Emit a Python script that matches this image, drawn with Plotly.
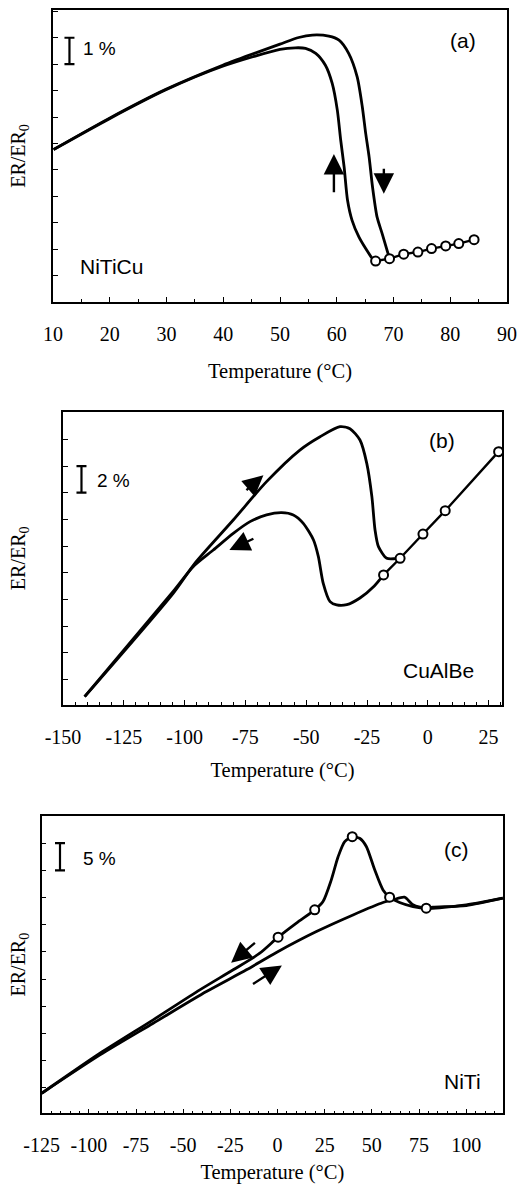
import plotly.graph_objects as go

# ---------------- data (a) NiTiCu ----------------
a_heat_T = [10.1, 19.8, 29.8, 39.9, 50.0, 53.3, 55.7, 58.6, 60.4, 62.1, 63.6, 64.5, 65.1, 65.7, 66.3, 67.1, 68.0, 69.3]
a_heat_R = [5.77, 6.94, 8.04, 8.96, 9.76, 10.01, 10.10, 10.06, 9.91, 9.41, 8.52, 7.39, 6.38, 5.49, 4.36, 3.22, 2.59, 1.64]
a_cool_T = [10.1, 19.8, 29.8, 39.9, 50.0, 52.7, 54.5, 56.3, 58.0, 59.2, 60.1, 60.7, 61.3, 61.9, 62.7, 63.9, 65.1, 66.3, 66.85]
a_cool_R = [5.77, 6.92, 8.02, 8.92, 9.56, 9.62, 9.60, 9.41, 8.96, 8.27, 7.26, 6.12, 5.11, 3.85, 3.09, 2.46, 2.02, 1.64, 1.55]
a_circ_T = [66.85, 69.3, 71.8, 74.3, 76.7, 79.2, 81.5, 84.2]
a_circ_R = [1.55, 1.64, 1.81, 1.89, 2.02, 2.12, 2.21, 2.36]
a_xticks = [10, 20, 30, 40, 50, 60, 70, 80, 90]

# ---------------- data (b) CuAlBe ----------------
b_heat_T = [-141.1, -104.7, -95.8, -80.0, -66.3, -52.6, -44.3, -36.1, -32.0, -27.9, -25.1, -23.0, -21.7, -20.3, -16.9, -13.4, -11.4]
b_heat_R = [0.7, 8.45, 10.7, 13.95, 16.83, 19.2, 20.2, 20.95, 20.8, 19.95, 18.2, 15.7, 13.2, 11.95, 11.08, 11.05, 11.08]
b_cool_T = [-18.2, -22.0, -27.9, -33.3, -37.5, -40.2, -43.0, -45.0, -47.0, -51.2, -55.3, -60.1, -66.3, -73.1, -80.0, -88.2, -96.5, -104.7, -141.1]
b_cool_R = [9.83, 9.0, 8.1, 7.6, 7.58, 7.83, 9.2, 11.2, 12.45, 13.7, 14.33, 14.5, 14.33, 13.83, 12.95, 11.7, 10.45, 8.6, 0.7]
b_circ_T = [-18.2, -11.4, -2.0, 7.15, 29.1]
b_circ_R = [9.83, 11.08, 12.9, 14.65, 19.08]
b_xticks = [-150, -125, -100, -75, -50, -25, 0, 25]

# ---------------- data (c) NiTi ----------------
c_heat_T = [-125, -94.1, -65.9, -37.7, -16.5, -0.6, 20.6, 40.0, 55.9, 61.2, 67.3, 71.8, 78.8, 100.0, 119.4]
c_heat_R = [3.99, 11.04, 16.87, 22.7, 26.7, 29.9, 33.74, 36.8, 39.08, 39.57, 40.06, 38.65, 38.04, 38.65, 39.88]
c_cool_T = [119.4, 100.0, 82.3, 78.8, 71.8, 64.7, 59.4, 55.9, 51.5, 47.05, 43.5, 39.6, 35.6, 32.1, 28.5, 24.1, 19.7, 10.0, 0.3, -9.4, -23.5, -41.2, -65.9, -94.1, -125]
c_cool_R = [39.88, 38.53, 38.22, 38.04, 38.34, 39.08, 40.06, 41.4, 45.1, 49.4, 50.9, 51.2, 50.3, 47.5, 43.25, 39.26, 37.73, 35.3, 32.7, 29.75, 26.7, 23.0, 17.5, 11.35, 3.99]
c_circ_T = [0.3, 19.7, 39.6, 59.4, 78.8]
c_circ_R = [32.7, 37.73, 51.2, 40.06, 38.04]
c_xticks = [-125, -100, -75, -50, -25, 0, 25, 50, 75, 100]

# scale bars: (x, y_low, y_high, label)
bar_a = (12.9, 9.0, 10.0, "1 %")
bar_b = (-142.4, 16.0, 18.0, "2 %")
bar_c = (-115.3, 45.0, 50.0, "5 %")

# arrows: (tail_x, tail_y, head_x, head_y)
arrows_a = [(59.5, 4.1, 59.5, 5.6), (68.3, 5.1, 68.3, 4.1)]
arrows_b = [(-75.2, 16.1, -67.6, 17.3), (-71.1, 12.6, -81.6, 11.7)]
arrows_c = [(-11.2, 31.9, -24.6, 28.0), (-13.8, 23.9, 2.3, 27.5)]

LINE = dict(color="black", width=2.8)
MARK = dict(symbol="circle", size=9, color="white", line=dict(color="black", width=2))

fig = go.Figure()

def add_panel(n, heatT, heatR, coolT, coolR, circT, circR, bar, circ_mode):
    xa = "x" if n == 1 else f"x{n}"
    ya = "y" if n == 1 else f"y{n}"
    fig.add_trace(go.Scatter(x=heatT, y=heatR, mode="lines", line=dict(LINE, shape="spline", smoothing=0.7),
                             xaxis=xa, yaxis=ya, showlegend=False, hoverinfo="skip"))
    fig.add_trace(go.Scatter(x=coolT, y=coolR, mode="lines", line=dict(LINE, shape="spline", smoothing=0.7),
                             xaxis=xa, yaxis=ya, showlegend=False, hoverinfo="skip"))
    fig.add_trace(go.Scatter(x=circT, y=circR, mode=circ_mode, line=dict(color="black", width=2.4),
                             marker=MARK, xaxis=xa, yaxis=ya, showlegend=False, hoverinfo="skip"))
    bx, blo, bhi, _ = bar
    fig.add_trace(go.Scatter(x=[bx], y=[(blo + bhi) / 2], mode="markers", marker=dict(size=1, color="rgba(0,0,0,0)"),
                             error_y=dict(type="data", array=[(bhi - blo) / 2], color="black", thickness=2.2, width=5),
                             xaxis=xa, yaxis=ya, showlegend=False, hoverinfo="skip"))

add_panel(1, a_heat_T, a_heat_R, a_cool_T, a_cool_R, a_circ_T, a_circ_R, bar_a, "lines+markers")
add_panel(2, b_heat_T, b_heat_R, b_cool_T, b_cool_R, b_circ_T, b_circ_R, bar_b, "lines+markers")
add_panel(3, c_heat_T, c_heat_R, c_cool_T, c_cool_R, c_circ_T, c_circ_R, bar_c, "markers")

SERIF = "Liberation Serif"
SANS = "Liberation Sans"
W, H = 518, 1184

def dx(px):
    return px / W

def dy(py):
    return 1 - py / H

def xax(domain, rng, ticks, anchor, standoff):
    return dict(domain=domain, range=rng, tickvals=ticks, ticktext=[str(t) for t in ticks],
                anchor=anchor, showline=True, linecolor="black", linewidth=1.5, mirror=True,
                ticks="inside", ticklen=5, tickcolor="black", tickwidth=1, automargin=False,
                minor=dict(dtick=5, tick0=0, ticks="inside", ticklen=3, tickcolor="black", tickwidth=1),
                showgrid=False, zeroline=False,
                tickfont=dict(family=SERIF, size=20, color="black"), ticklabelstandoff=13,
                title=dict(text="Temperature (°C)", font=dict(family=SERIF, size=20.5, color="black"), standoff=standoff))

def yax(domain, rng, dtick, anchor, standoff):
    return dict(domain=domain, range=rng, dtick=dtick, tick0=0, anchor=anchor, showticklabels=False,
                showline=True, linecolor="black", linewidth=1.5, mirror=True, automargin=False,
                ticks="inside", ticklen=5, tickcolor="black", tickwidth=1,
                showgrid=False, zeroline=False,
                title=dict(text="ER/ER<sub>0</sub>", font=dict(family=SERIF, size=20, color="black"), standoff=standoff))

fig.update_layout(
    width=W, height=H, margin=dict(l=0, r=0, t=0, b=0, autoexpand=False),
    paper_bgcolor="white", plot_bgcolor="white",
    xaxis=xax([dx(53), dx(507)], [10, 90], a_xticks, "y", 20),
    yaxis=yax([dy(302), dy(10)], [0, 11.05], 1, "x", 20),
    xaxis2=xax([dx(63), dx(502)], [-150, 30.5], b_xticks, "y2", 16),
    yaxis2=yax([dy(705), dy(411.7)], [0.075, 22.075], 2, "x2", 30),
    xaxis3=xax([dx(41.7), dx(503)], [-125, 119.5], c_xticks, "y3", 14),
    yaxis3=yax([dy(1113.3), dy(816)], [0.3, 55], 5, "x3", 9),
)

ann = []
def txt(n, x, y, s, size=21):
    sfx = "" if n == 1 else str(n)
    ann.append(dict(text=s, x=x, y=y, xref=f"x{sfx} domain", yref=f"y{sfx} domain", showarrow=False,
                    xanchor="center", yanchor="middle", font=dict(family=SANS, size=size, color="black")))

txt(1, 0.904, 0.897, "(a)")
txt(1, 0.129, 0.12, "NiTiCu")
txt(1, 0.103, 0.869, bar_a[3], 19)
txt(2, 0.863, 0.903, "(b)")
txt(2, 0.855, 0.119, "CuAlBe")
txt(2, 0.114, 0.767, bar_b[3], 19)
txt(3, 0.899, 0.886, "(c)")
txt(3, 0.913, 0.1065, "NiTi")
txt(3, 0.126, 0.858, bar_c[3], 19)

def arr(n, lst):
    sfx = "" if n == 1 else str(n)
    for tx, ty, hx, hy in lst:
        ann.append(dict(x=hx, y=hy, ax=tx, ay=ty, xref=f"x{sfx}", yref=f"y{sfx}", axref=f"x{sfx}", ayref=f"y{sfx}",
                        showarrow=True, arrowhead=2, arrowsize=1.7, arrowwidth=2.4, arrowcolor="black", text=""))

arr(1, arrows_a)
arr(2, arrows_b)
arr(3, arrows_c)
fig.update_layout(annotations=ann)

fig.write_html("out.html", config={"displayModeBar": False},
               post_script="document.body.style.margin='0px';document.body.style.overflow='hidden';")
